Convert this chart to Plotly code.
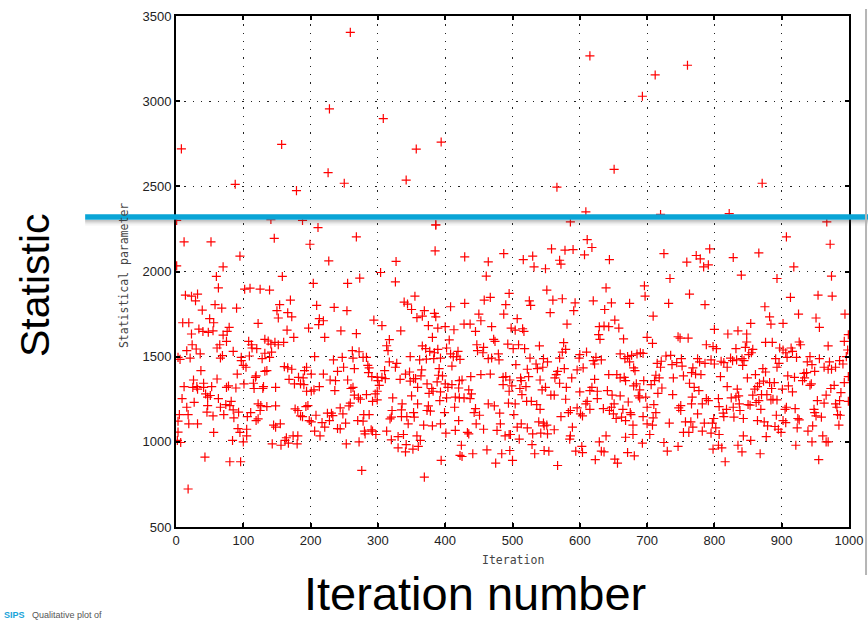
import plotly.graph_objects as go

# Statistical parameter recorded at each iteration, (iteration, value) pairs.
upper_tail = [
    (8, 2720), (88, 2512), (157, 2746), (179, 2475), (228, 2955), (226, 2580), (250, 2518),
    (259, 3404), (308, 2898), (357, 2719), (342, 2537), (394, 2760), (615, 3266), (712, 3154),
    (760, 3211), (693, 3029), (651, 2600), (871, 2518), (566, 2495), (609, 2350), (586, 2291),
    (720, 2335), (822, 2340), (967, 2291), (1, 2300), (141, 2305), (188, 2300), (211, 2258),
    (386, 2274),
]

samples_0_240 = [
    (12, 2174), (52, 2174), (146, 2195), (199, 2160), (95, 2090), (227, 2062), (70, 2027), (1, 2033),
    (60, 1971), (158, 1971), (204, 1930), (63, 1904), (102, 1896), (110, 1902), (125, 1896), (139, 1891),
    (14, 1861), (23, 1855), (32, 1867), (29, 1828), (58, 1805), (68, 1785), (39, 1773), (90, 1785),
    (154, 1805), (150, 1770), (166, 1758), (172, 1734), (152, 1727), (170, 1832), (209, 1801), (235, 1789),
    (10, 1699), (19, 1699), (50, 1723), (56, 1699), (122, 1695), (213, 1723), (219, 1711), (212, 1688),
    (34, 1662), (40, 1648), (48, 1643), (55, 1652), (23, 1633), (70, 1627), (76, 1648), (79, 1672),
    (165, 1656), (197, 1668), (175, 1613), (221, 1613), (24, 1570), (16, 1535), (30, 1545), (36, 1516),
    (65, 1570), (61, 1551), (75, 1590), (85, 1531), (69, 1506), (66, 1492), (108, 1590), (112, 1570),
    (113, 1551), (120, 1547), (132, 1602), (137, 1592), (141, 1574), (147, 1584), (152, 1570), (160, 1584),
    (142, 1527), (132, 1520), (109, 1504), (97, 1496), (97, 1477), (128, 1488), (139, 1496), (6, 1484),
    (3, 1496), (21, 1492), (206, 1500), (234, 1481), (104, 1438), (100, 1449), (37, 1418), (91, 1398),
    (61, 1369), (26, 1363), (41, 1344), (119, 1387), (118, 1379), (132, 1414), (135, 1418), (161, 1441),
    (166, 1434), (172, 1426), (191, 1418), (194, 1438), (201, 1398), (189, 1375), (182, 1379), (219, 1398),
    (240, 1414), (229, 1363), (237, 1359), (12, 1324), (25, 1320), (31, 1324), (41, 1320), (53, 1324),
    (32, 1309), (44, 1281), (51, 1272), (47, 1262), (75, 1320), (78, 1328), (89, 1316), (101, 1340),
    (115, 1344), (116, 1313), (129, 1313), (130, 1324), (148, 1320), (168, 1367), (176, 1340), (185, 1340),
    (190, 1336), (194, 1297), (201, 1297), (205, 1305), (213, 1324), (236, 1301), (9, 1254), (27, 1232),
    (63, 1254), (82, 1238), (80, 1213), (66, 1203), (74, 1219), (47, 1213), (16, 1203), (122, 1223),
    (126, 1213), (135, 1207), (148, 1211), (125, 1184), (122, 1135), (119, 1125), (93, 1174), (85, 1188),
    (111, 1172), (106, 1148), (86, 1141), (71, 1160), (55, 1152), (46, 1174), (18, 1160), (5, 1160),
    (3, 1121), (19, 1106), (32, 1106), (3, 1057), (2, 1008), (7, 996), (56, 1055), (92, 1078),
    (95, 1055), (105, 1074), (105, 1035), (100, 1000), (84, 1008), (145, 1098), (148, 1086), (155, 1106),
    (177, 1193), (181, 1184), (188, 1148), (185, 1152), (193, 1207), (196, 1213), (198, 1125), (201, 1117),
    (208, 1156), (217, 1113), (206, 1063), (214, 1035), (225, 1168), (231, 1168), (233, 1154), (228, 1125),
    (221, 1086), (240, 1078), (143, 988), (156, 980), (162, 1008), (167, 992), (174, 1035), (181, 1035),
    (180, 988), (164, 1024), (43, 910), (80, 883), (96, 883), (18, 723),
]

samples_240_495 = [
    (268, 2203), (386, 2273), (385, 2121), (429, 2086), (487, 2105), (464, 2057), (327, 2059), (304, 1994),
    (273, 1961), (255, 1930), (326, 1939), (461, 1973), (355, 1855), (339, 1820), (344, 1809), (350, 1777),
    (254, 1770), (294, 1715), (306, 1682), (245, 1652), (268, 1635), (334, 1652), (358, 1729), (366, 1738),
    (369, 1770), (384, 1754), (386, 1734), (375, 1682), (389, 1668), (400, 1676), (413, 1658), (408, 1793),
    (429, 1813), (458, 1832), (467, 1848), (495, 1871), (490, 1805), (487, 1750), (450, 1750), (453, 1711),
    (428, 1691), (437, 1691), (469, 1676), (445, 1648), (381, 1613), (317, 1600), (313, 1564), (315, 1535),
    (262, 1535), (272, 1529), (247, 1496), (263, 1492), (278, 1496), (283, 1496), (285, 1449), (287, 1434),
    (286, 1406), (291, 1383), (299, 1379), (306, 1379), (311, 1371), (310, 1418), (317, 1469), (326, 1438),
    (328, 1461), (348, 1500), (362, 1481), (372, 1486), (366, 1563), (371, 1547), (377, 1531), (384, 1523),
    (389, 1543), (383, 1488), (393, 1492), (406, 1598), (402, 1551), (408, 1516), (412, 1500), (417, 1500),
    (419, 1531), (422, 1484), (410, 1445), (447, 1570), (457, 1555), (456, 1523), (448, 1535), (472, 1602),
    (474, 1590), (493, 1574), (464, 1488), (469, 1492), (480, 1481), (479, 1516), (467, 1398), (453, 1395),
    (438, 1383), (425, 1363), (435, 1305), (439, 1281), (428, 1258), (421, 1258), (437, 1254), (445, 1195),
    (443, 1172), (451, 1156), (464, 1223), (473, 1211), (481, 1168), (486, 1379), (490, 1383), (486, 1336),
    (494, 1227), (482, 1106), (477, 1067), (489, 1035), (495, 1043), (457, 1074), (462, 953), (484, 930),
    (475, 875), (441, 930), (424, 980), (422, 920), (425, 914), (446, 1106), (433, 1055), (435, 1047),
    (415, 1067), (420, 1125), (414, 1203), (415, 1262), (420, 1316), (421, 1359), (410, 1336), (404, 1320),
    (400, 1340), (396, 1387), (388, 1352), (380, 1313), (382, 1297), (376, 1285), (393, 1293), (392, 1242),
    (402, 1258), (399, 1172), (393, 1106), (401, 1051), (381, 1094), (373, 1184), (378, 1180), (375, 1211),
    (359, 1223), (368, 1098), (363, 1008), (360, 973), (352, 957), (358, 1035), (342, 984), (341, 941),
    (330, 965), (330, 1031), (338, 1043), (320, 1012), (313, 1063), (345, 1106), (335, 1148), (343, 1148),
    (354, 1145), (353, 1172), (335, 1188), (336, 1223), (321, 1184), (318, 1135), (320, 1145), (322, 1258),
    (350, 1270), (359, 1320), (348, 1356), (353, 1371), (365, 1422), (364, 1387), (356, 1371), (341, 1398),
    (333, 1367), (347, 1410), (391, 1430), (390, 1391), (373, 1340), (300, 1359), (302, 1332), (299, 1297),
    (296, 1281), (292, 1238), (299, 1246), (283, 1277), (271, 1258), (274, 1250), (265, 1274), (260, 1313),
    (263, 1320), (255, 1363), (249, 1438), (265, 1430), (244, 1199), (248, 1164), (259, 1227), (257, 1211),
    (270, 1125), (278, 1121), (287, 1160), (279, 1160), (252, 1110), (244, 1076), (280, 1063), (281, 1047),
    (290, 1071), (292, 1063), (297, 1043), (272, 1000), (253, 988), (276, 832), (369, 793), (394, 891),
]

samples_495_747 = [
    (611, 2187), (618, 2141), (558, 2133), (578, 2125), (590, 2129), (607, 2098), (530, 2090), (516, 2070),
    (570, 2066), (572, 2043), (532, 2027), (549, 2016), (644, 2070), (725, 2105), (734, 1959), (696, 1916),
    (697, 1855), (732, 1813), (709, 1738), (639, 1904), (647, 1816), (620, 1828), (637, 1777), (674, 1813),
    (593, 1816), (591, 1770), (574, 1840), (560, 1832), (551, 1891), (525, 1828), (527, 1801), (556, 1758),
    (581, 1691), (507, 1723), (498, 1668), (515, 1664), (517, 1648), (504, 1656), (652, 1715), (658, 1668),
    (629, 1676), (636, 1680), (643, 1676), (628, 1629), (630, 1602), (665, 1604), (700, 1613), (708, 1578),
    (660, 1516), (685, 1516), (690, 1523), (694, 1519), (677, 1508), (671, 1500), (667, 1488), (674, 1469),
    (680, 1434), (682, 1418), (655, 1395), (660, 1375), (666, 1379), (668, 1359), (643, 1395), (622, 1367),
    (610, 1527), (600, 1512), (599, 1492), (605, 1434), (596, 1422), (620, 1477), (624, 1496), (632, 1481),
    (622, 1457), (576, 1582), (579, 1543), (574, 1527), (570, 1492), (540, 1563), (518, 1547), (509, 1570),
    (501, 1547), (526, 1492), (546, 1488), (552, 1469), (535, 1457), (545, 1438), (537, 1430), (522, 1426),
    (505, 1453), (567, 1414), (565, 1395), (577, 1430), (563, 1375), (570, 1344), (588, 1375), (541, 1363),
    (524, 1383), (512, 1375), (513, 1359), (496, 1363), (499, 1328), (520, 1324), (511, 1313), (495, 1297),
    (514, 1277), (504, 1223), (521, 1238), (528, 1238), (536, 1219), (541, 1191), (544, 1305), (549, 1320),
    (557, 1274), (562, 1274), (580, 1320), (579, 1250), (600, 1293), (615, 1301), (618, 1320), (626, 1297),
    (626, 1254), (611, 1238), (609, 1223), (615, 1191), (596, 1199), (601, 1164), (604, 1152), (586, 1184),
    (583, 1172), (572, 1148), (589, 1086), (586, 1035), (585, 1016), (562, 1071), (552, 1047), (542, 1051),
    (530, 1047), (522, 1082), (513, 1106), (507, 1086), (546, 1110), (539, 1117), (547, 1094), (551, 1098),
    (502, 1160), (497, 1043), (510, 1016), (529, 984), (533, 930), (547, 949), (554, 945), (496, 949),
    (500, 891), (567, 861), (603, 973), (604, 937), (594, 945), (623, 895), (632, 945), (636, 941),
    (639, 1035), (629, 1000), (652, 898), (656, 875), (671, 937), (681, 918), (668, 1027), (679, 1043),
    (693, 992), (704, 1043), (700, 1106), (708, 1098), (694, 1148), (679, 1098), (668, 1125), (654, 1137),
    (662, 1145), (644, 1184), (635, 1195), (650, 1164), (647, 1203), (651, 1223), (660, 1270), (675, 1172),
    (676, 1160), (664, 1191), (648, 1274), (641, 1301), (672, 1234), (680, 1328), (684, 1340), (689, 1305),
    (687, 1270), (689, 1258), (695, 1359), (706, 1336), (698, 1262), (700, 1203), (710, 1219), (713, 1172),
    (709, 1141), (716, 1285), (718, 1375), (711, 1359), (722, 1316), (738, 1277), (739, 1375), (733, 1110),
    (746, 973), (730, 945), (725, 996), (713, 1391), (720, 1438), (715, 1461), (721, 1473), (728, 1504),
    (735, 1508), (737, 1453), (744, 1465), (746, 1617), (747, 1199),
]

samples_747_1000 = [
    (907, 2203), (972, 2160), (793, 2133), (773, 2094), (779, 2074), (759, 2055), (784, 2027), (791, 2039),
    (828, 2082), (866, 2109), (918, 2027), (840, 1979), (893, 1959), (974, 1973), (763, 1867), (786, 1805),
    (913, 1848), (954, 1861), (975, 1855), (875, 1793), (882, 1734), (884, 1691), (902, 1695), (925, 1750),
    (951, 1727), (956, 1672), (994, 1750), (854, 1695), (800, 1660), (820, 1633), (835, 1652), (848, 1633),
    (749, 1609), (761, 1609), (848, 1586), (876, 1584), (886, 1584), (926, 1586), (928, 1570), (969, 1563),
    (993, 1590), (999, 1629), (788, 1570), (798, 1559), (803, 1547), (832, 1547), (846, 1555), (857, 1543),
    (855, 1523), (851, 1512), (897, 1551), (902, 1539), (906, 1523), (914, 1551), (916, 1531), (922, 1496),
    (908, 1496), (998, 1539), (996, 1500), (751, 1488), (752, 1445), (775, 1488), (778, 1469), (786, 1461),
    (795, 1481), (800, 1457), (810, 1473), (814, 1465), (819, 1438), (824, 1492), (827, 1477), (833, 1481),
    (841, 1488), (844, 1477), (842, 1449), (768, 1434), (766, 1406), (754, 1387), (772, 1398), (780, 1395),
    (809, 1383), (763, 1344), (770, 1320), (777, 1301), (767, 1262), (788, 1254), (791, 1242), (782, 1223),
    (766, 1223), (750, 1213), (750, 1184), (775, 1164), (757, 1117), (765, 1117), (768, 1086), (754, 1055),
    (762, 1055), (782, 1063), (785, 1110), (795, 1051), (797, 1110), (799, 1137), (802, 1082), (807, 1043),
    (806, 980), (798, 957), (811, 965), (816, 883), (807, 1207), (806, 1254), (814, 1148), (813, 1168),
    (818, 1191), (828, 1203), (829, 1145), (819, 1324), (834, 1309), (825, 1258), (832, 1262), (836, 1270),
    (837, 1223), (838, 1184), (843, 1137), (843, 1035), (835, 980), (841, 941), (854, 1008), (868, 930),
    (877, 1031), (879, 1094), (874, 1117), (864, 1125), (850, 1219), (853, 1215), (862, 1231), (866, 1242),
    (869, 1191), (878, 1277), (884, 1246), (887, 1250), (893, 1246), (892, 1156), (890, 1090), (895, 1074),
    (899, 1055), (902, 1125), (906, 1113), (907, 1203), (905, 1191), (920, 1195), (924, 1137), (926, 1129),
    (923, 1082), (921, 980), (939, 1063), (946, 1094), (945, 1000), (961, 1035), (966, 1000), (969, 1000),
    (955, 895), (949, 1172), (951, 1152), (959, 1145), (948, 1191), (953, 1242), (963, 1227), (966, 1274),
    (973, 1313), (978, 1332), (988, 1289), (993, 1348), (999, 1383), (986, 1242), (980, 1223), (982, 1203),
    (983, 1160), (987, 1156), (985, 1098), (931, 1359), (934, 1375), (933, 1402), (937, 1406), (942, 1332),
    (944, 1340), (949, 1414), (956, 1488), (945, 1453), (942, 1500), (938, 1469), (963, 1438), (969, 1426),
    (974, 1426), (980, 1438), (971, 1469), (986, 1477), (991, 1457), (919, 1379), (909, 1387), (910, 1328),
    (916, 1293), (901, 1309), (893, 1438), (896, 1461), (891, 1488), (872, 1430), (876, 1410), (861, 1395),
    (849, 1375), (867, 1344), (882, 1348), (889, 1348), (885, 1313), (873, 1356), (864, 1324), (860, 1309),
    (857, 1274), (870, 1277), (999, 1238),
]

x_ticks = [0, 100, 200, 300, 400, 500, 600, 700, 800, 900, 1000]
y_ticks = [500, 1000, 1500, 2000, 2500, 3000, 3500]
X_RANGE = (0, 1000)
Y_RANGE = (500, 3500)
THRESHOLD = 2320  # highlighted level drawn across the plot

all_samples = upper_tail + samples_0_240 + samples_240_495 + samples_495_747 + samples_747_1000
iteration = [p[0] for p in all_samples]
statistic = [p[1] for p in all_samples]

W, H = 868, 623
M_L, M_R, M_T, M_B = 176, 19, 16, 96
plot_h = H - M_T - M_B
units_per_px = (Y_RANGE[1] - Y_RANGE[0]) / plot_h

fig = go.Figure()
fig.add_trace(go.Scatter(
    x=iteration, y=statistic, mode="markers",
    marker=dict(symbol="cross-thin", size=6.5, color="red",
                line=dict(color="rgb(255,0,0)", width=1.2)),
    hoverinfo="x+y", showlegend=False,
))

axis_common = dict(
    showline=True, linecolor="black", linewidth=2, mirror="allticks",
    ticks="inside", ticklen=4, tickwidth=2, tickcolor="black",
    showgrid=True, gridcolor="#222222", gridwidth=1.3, griddash="1.3px,7px",
    zeroline=False, automargin=False,
    tickfont=dict(family="Liberation Sans, Arial, sans-serif", size=13, color="#222222"),
)

fig.update_xaxes(range=list(X_RANGE), tickvals=x_ticks, ticktext=[str(v) for v in x_ticks], **axis_common)
fig.update_yaxes(range=list(Y_RANGE), tickvals=y_ticks, ticktext=[str(v) for v in y_ticks], **axis_common)

mono = dict(family="DejaVu Sans Mono, Liberation Mono, monospace", size=11.5, color="#444444")
sans = "Liberation Sans, Arial, sans-serif"

annotations = [
    dict(text="Statistical parameter", xref="paper", yref="paper", x=0, y=0.491,
         xshift=-52, textangle=-90, showarrow=False, font=mono,
         xanchor="center", yanchor="middle"),
    dict(text="Iteration", xref="paper", yref="paper", x=0.5007, y=0, yshift=-33,
         showarrow=False, font=mono, xanchor="center", yanchor="middle"),
    dict(text="Statistic", xref="paper", yref="paper", x=-0.2095, y=0.4736,
         textangle=-90, showarrow=False, font=dict(family=sans, size=41, color="black"),
         xanchor="center", yanchor="middle"),
    dict(text="Iteration number", xref="paper", yref="paper", x=0.444, y=-0.131,
         showarrow=False, font=dict(family=sans, size=47, color="black"),
         xanchor="center", yanchor="middle"),
    dict(text="<b><span style='color:#1aa3d9'>SIPS</span></b>   Qualitative plot of",
         xref="paper", yref="paper", x=-0.259, y=-0.1585, showarrow=False,
         font=dict(family=sans, size=9, color="#555555"),
         xanchor="left", yanchor="top"),
]

shapes = []
# soft shadow under the highlighted level
for k, alpha in enumerate([0.30, 0.24, 0.17, 0.11, 0.06, 0.03]):
    yy = THRESHOLD - (3.5 + k) * units_per_px
    shapes.append(dict(type="line", xref="paper", yref="y", x0=-0.135, x1=1.03, y0=yy, y1=yy,
                       line=dict(color=f"rgba(60,60,60,{alpha})", width=1.2), layer="above"))
shapes.append(dict(type="line", xref="paper", yref="y", x0=-0.135, x1=1.03,
                   y0=THRESHOLD, y1=THRESHOLD,
                   line=dict(color="#0aa5d6", width=5.5), layer="above"))
# edge of the neighbouring panel
shapes.append(dict(type="line", xref="paper", yref="paper", x0=1.0253, x1=1.0253,
                   y0=1.0137, y1=-0.094, line=dict(color="#b5b5b5", width=2), layer="above"))

fig.update_layout(
    width=W, height=H,
    margin=dict(l=M_L, r=M_R, t=M_T, b=M_B, autoexpand=False),
    paper_bgcolor="white", plot_bgcolor="white",
    annotations=annotations, shapes=shapes,
    showlegend=False,
)

fig.write_html("out.html", config={"displayModeBar": False})
